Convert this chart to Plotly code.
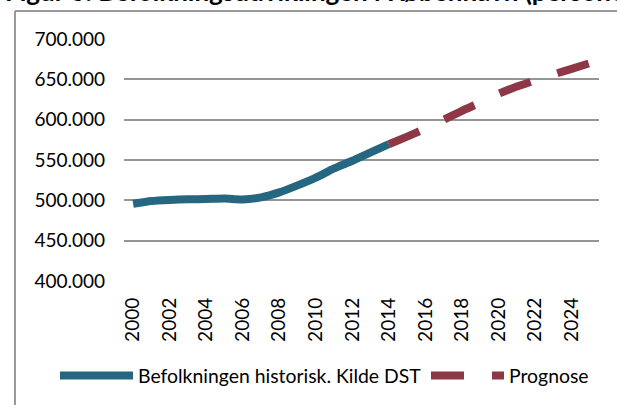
import plotly.graph_objects as go

years_hist = [2000, 2001, 2002, 2003, 2004, 2005, 2006, 2007, 2008, 2009, 2010, 2011, 2012, 2013, 2014]
pop_hist = [495699, 499148, 500531, 501285, 501664, 502204, 501158, 503699, 509861, 518574,
            528208, 539542, 549050, 559440, 569557]
years_prog = [2014, 2015, 2016, 2017, 2018, 2019, 2020, 2021, 2022, 2023, 2024, 2025]
pop_prog = [569557, 579000, 589000, 600000, 611000, 621000, 632000, 641000, 648500, 656000, 663000, 670000]

tick_years = [2000, 2002, 2004, 2006, 2008, 2010, 2012, 2014, 2016, 2018, 2020, 2022, 2024]
tick_labels = [str(y) for y in tick_years]
y_ticks = [400000, 450000, 500000, 550000, 600000, 650000, 700000]
y_labels = ["400.000", "450.000", "500.000", "550.000", "600.000", "650.000", "700.000"]

title_text = "Figur 6: Befolkningsudviklingen i København (personer)"

BLUE = "#256780"
RED = "#8e3747"
FONT = "Lato"

W, H = 617, 405
# plot area in page pixels
PX0, PX1, PY0, PY1 = 124, 599, 39, 281
L, T = PX0, PY0
R = W - PX1
B = H - PY1
pw, ph = PX1 - PX0, PY1 - PY0


def px_x(p):
    return (p - PX0) / pw


def px_y(p):
    return (PY1 - p) / ph


fig = go.Figure()
fig.add_trace(go.Scatter(
    x=years_hist, y=pop_hist, mode="lines", name="Befolkningen historisk. Kilde DST",
    line=dict(color=BLUE, width=8, shape="spline", smoothing=0.6), legend="legend",
))
fig.add_trace(go.Scatter(
    x=years_prog, y=pop_prog, mode="lines", name="Prognose",
    line=dict(color=RED, width=8, shape="spline", smoothing=0.6, dash="33px,28px"),
    legend="legend2",
))

# outer frame (left and top edges visible)
fig.add_shape(type="line", xref="paper", yref="paper",
              x0=px_x(15), x1=px_x(15), y0=px_y(430), y1=px_y(11),
              line=dict(color="#999999", width=2), layer="above")
fig.add_shape(type="line", xref="paper", yref="paper",
              x0=px_x(15), x1=px_x(640), y0=px_y(11), y1=px_y(11),
              line=dict(color="#999999", width=2), layer="above")

fig.add_annotation(xref="paper", yref="paper", x=px_x(3), y=px_y(9),
                   xanchor="left", yanchor="bottom", showarrow=False,
                   text="<b>" + title_text + "</b>",
                   font=dict(family=FONT, size=26, color="#000000"))

legend_common = dict(orientation="h", y=px_y(376), xanchor="left", yanchor="middle",
                     itemwidth=73, font=dict(family=FONT, size=19.4),
                     bgcolor="rgba(0,0,0,0)")

fig.update_layout(
    width=W, height=H,
    margin=dict(l=L, r=R, t=T, b=B, autoexpand=False),
    paper_bgcolor="white", plot_bgcolor="white",
    font=dict(family=FONT, size=19, color="#000000"),
    showlegend=True,
    legend=dict(x=px_x(55), **legend_common),
    legend2=dict(x=px_x(426), **legend_common),
    xaxis=dict(range=[1999.5, 2025.5], tickvals=tick_years, ticktext=tick_labels,
               tickangle=-90, showgrid=False, zeroline=False, showline=False,
               ticks="", ticklabelstandoff=12, fixedrange=True),
    yaxis=dict(range=[400000, 700000], tickvals=y_ticks, ticktext=y_labels,
               showgrid=True, gridcolor="#959595", gridwidth=2, zeroline=False,
               showline=False, ticks="", ticklabelstandoff=18, fixedrange=True),
)

fig.write_html("out.html", config={"displayModeBar": False},
               post_script="document.body.style.margin='0px';document.body.style.overflow='hidden';")
